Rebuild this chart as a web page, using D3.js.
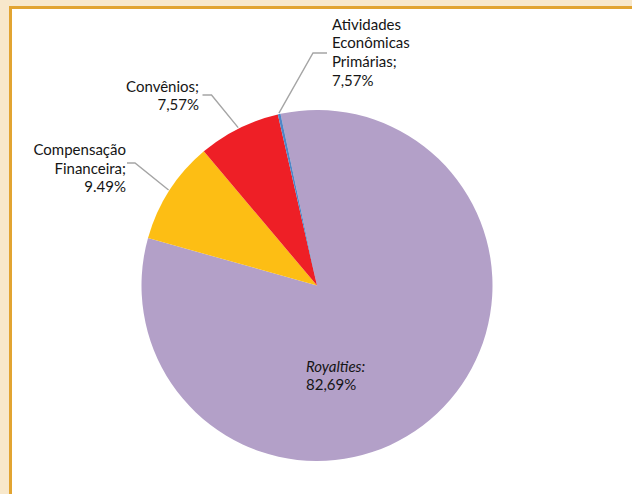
<!DOCTYPE html>
<html>
<head>
<meta charset="utf-8">
<script src="https://cdn.jsdelivr.net/npm/d3@7"></script>
<style>
  html, body { margin: 0; padding: 0; background: #f8e8cb; }
  svg { display: block; }
  text { font-family: Lato, "Open Sans", sans-serif; fill: #151515; }
</style>
</head>
<body>
<svg id="chart" width="632" height="494"></svg>
<script>
// Receita por origem (participação %)
const categories = ["Royalties", "Compensação Financeira", "Convênios", "Atividades Econômicas Primárias"];
const shares = [82.69, 9.49, 7.57, 0.25];
const labelNames = [["Royalties:"], ["Compensação", "Financeira;"], ["Convênios;"], ["Atividades", "Econômicas", "Primárias;"]];
const labelValues = ["82,69%", "9.49%", "7,57%", "7,57%"];
const colors = ["#b3a0c8", "#fdbe14", "#ee1f26", "#4f86c6"];

const W = 632, H = 494;
const cx = 317, cy = 285.5, R = 175.5;

const svg = d3.select("#chart");

// panel frame
svg.append("rect").attr("x", 0).attr("y", 0).attr("width", W).attr("height", H).attr("fill", "#f8e8cb");
svg.append("rect").attr("x", 9).attr("y", 6).attr("width", W - 9).attr("height", H - 6).attr("fill", "#e2a431");
svg.append("rect").attr("x", 12).attr("y", 9).attr("width", W - 12).attr("height", H - 9).attr("fill", "#ffffff");

const data = categories.map((c, i) => ({ name: c, value: shares[i], i }));

const pie = d3.pie().value(d => d.value).sort(null)
  .startAngle(-12 * Math.PI / 180)
  .endAngle(348 * Math.PI / 180);
const arcs = pie(data);

const arc = d3.arc().innerRadius(0).outerRadius(R);
const g = svg.append("g").attr("transform", `translate(${cx},${cy})`);

g.selectAll("path.slice").data(arcs).enter().append("path")
  .attr("class", "slice")
  .attr("d", arc)
  .attr("fill", d => colors[d.data.i]);

// label layout: anchor point relative to centre, alignment, elbow of the leader
const layout = [
  { x: -11, y: 86, anchor: "start", italicFirst: true },
  { x: -191, y: -130.5, anchor: "end", elbow: [-190, -122.5], knee: [-182, -122.5] },
  { x: -118, y: -194, anchor: "end", elbow: [-114.5, -190.5], knee: [-105.5, -190.5] },
  { x: 15, y: -256, anchor: "start", elbow: [10, -232.5], knee: [-4, -232.5] }
];

const lineH = 18.7;
const outerPt = a => [Math.sin(a) * (R + 1), -Math.cos(a) * (R + 1)];

arcs.forEach((d, k) => {
  const L = layout[k];
  const mid = (d.startAngle + d.endAngle) / 2;
  if (L.elbow) {
    const p = outerPt(mid);
    g.append("polyline")
      .attr("points", [L.elbow, L.knee, p].map(q => q.join(",")).join(" "))
      .attr("fill", "none")
      .attr("stroke", "#a5a5a5")
      .attr("stroke-width", 1.4);
  }
  const lines = labelNames[k].concat([labelValues[k]]);
  const t = g.append("text")
    .attr("text-anchor", L.anchor)
    .attr("font-size", 15);
  lines.forEach((s, j) => {
    t.append("tspan")
      .attr("x", L.x)
      .attr("y", L.y + j * lineH)
      .attr("font-style", L.italicFirst && j === 0 ? "italic" : null)
      .text(s);
  });
});
</script>
</body>
</html>
